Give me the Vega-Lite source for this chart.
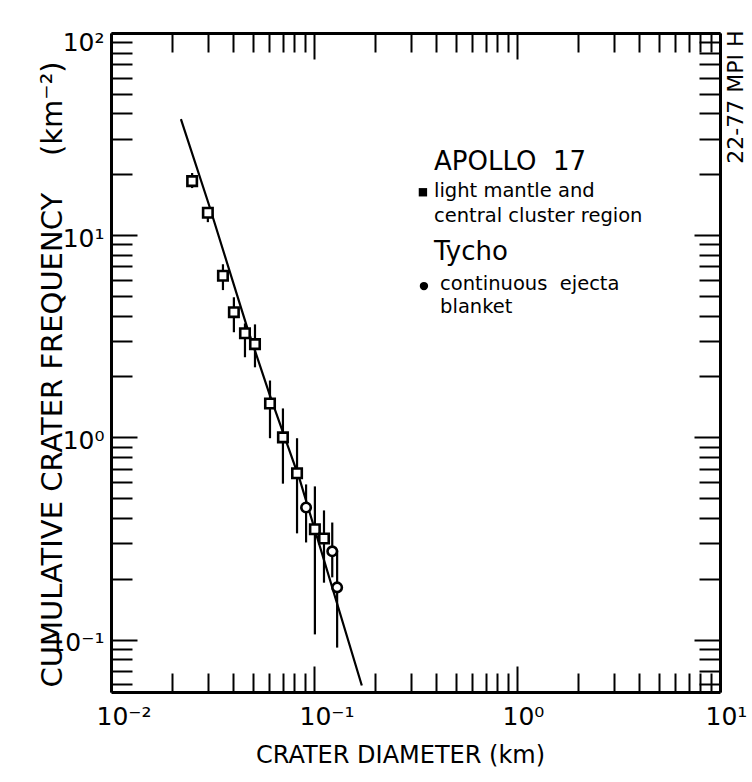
{
  "$schema": "https://vega.github.io/schema/vega-lite/v6.json",
  "width": 609,
  "height": 659,
  "autosize": {"type": "none"},
  "padding": {"left": 111, "top": 33, "right": 32, "bottom": 90},
  "background": "white",
  "config": {
    "view": {"stroke": null},
    "font": "DejaVu Sans",
    "axis": {
      "grid": false,
      "domainColor": "black",
      "domainWidth": 3,
      "tickColor": "black",
      "tickWidth": 2,
      "labelFont": "DejaVu Sans",
      "labelFontSize": 25,
      "labelColor": "black",
      "labelFlush": false,
      "labelOverlap": false,
      "labelBound": false,
      "titleFont": "DejaVu Sans",
      "titleFontWeight": "normal",
      "titleColor": "black"
    }
  },
  "datasets": {
    "counts": [
      {"diameter": 0.0251, "frequency": 18.5, "low": 17.1, "high": 20.3, "region": "Apollo 17"},
      {"diameter": 0.0300, "frequency": 12.9, "low": 11.6, "high": 13.6, "region": "Apollo 17"},
      {"diameter": 0.0356, "frequency": 6.30, "low": 5.35, "high": 7.18, "region": "Apollo 17"},
      {"diameter": 0.0403, "frequency": 4.16, "low": 3.31, "high": 4.93, "region": "Apollo 17"},
      {"diameter": 0.0457, "frequency": 3.27, "low": 2.49, "high": 3.66, "region": "Apollo 17"},
      {"diameter": 0.0512, "frequency": 2.89, "low": 2.22, "high": 3.62, "region": "Apollo 17"},
      {"diameter": 0.0607, "frequency": 1.47, "low": 0.99, "high": 1.91, "region": "Apollo 17"},
      {"diameter": 0.0703, "frequency": 1.00, "low": 0.59, "high": 1.39, "region": "Apollo 17"},
      {"diameter": 0.0825, "frequency": 0.664, "low": 0.335, "high": 0.99, "region": "Apollo 17"},
      {"diameter": 0.0914, "frequency": 0.450, "low": 0.302, "high": 0.585, "region": "Tycho"},
      {"diameter": 0.101, "frequency": 0.351, "low": 0.106, "high": 0.572, "region": "Apollo 17"},
      {"diameter": 0.112, "frequency": 0.316, "low": 0.191, "high": 0.435, "region": "Apollo 17"},
      {"diameter": 0.123, "frequency": 0.273, "low": 0.203, "high": 0.379, "region": "Tycho"},
      {"diameter": 0.130, "frequency": 0.181, "low": 0.0912, "high": 0.276, "region": "Tycho"}
    ],
    "fit": [
      {"diameter": 0.0221, "frequency": 37.5},
      {"diameter": 0.0304, "frequency": 14.1},
      {"diameter": 0.0468, "frequency": 3.51},
      {"diameter": 0.0607, "frequency": 1.61},
      {"diameter": 0.0853, "frequency": 0.612},
      {"diameter": 0.172, "frequency": 0.0592}
    ],
    "headings": [
      {"diameter": 0.39, "frequency": 21.0, "text": "APOLLO\u00a0\u00a017"},
      {"diameter": 0.39, "frequency": 7.52, "text": "Tycho"}
    ],
    "notes": [
      {"diameter": 0.39, "frequency": 15.4, "text": "light mantle and"},
      {"diameter": 0.39, "frequency": 11.6, "text": "central cluster region"},
      {"diameter": 0.418, "frequency": 5.35, "text": "continuous\u00a0\u00a0ejecta"},
      {"diameter": 0.418, "frequency": 4.11, "text": "blanket"}
    ],
    "keys": [
      {"diameter": 0.344, "frequency": 16.3, "region": "Apollo 17"},
      {"diameter": 0.348, "frequency": 5.6, "region": "Tycho"}
    ],
    "stamp": [
      {"diameter": 12.0, "frequency": 48.2, "text": "22-77 MPI H"}
    ]
  },
  "layer": [
    {
      "data": {"name": "counts"},
      "mark": {"type": "rule", "color": "black", "strokeWidth": 2.2},
      "encoding": {
        "x": {
          "field": "diameter", "type": "quantitative",
          "scale": {"type": "log", "domain": [0.01, 10], "nice": false},
          "axis": {
            "orient": "bottom",
            "values": [0.01, 0.02, 0.03, 0.04, 0.05, 0.06, 0.07, 0.08, 0.09, 0.1, 0.2, 0.3, 0.4, 0.5, 0.6, 0.7, 0.8, 0.9, 1, 2, 3, 4, 5, 6, 7, 8, 9, 10],
            "tickSize": {"condition": {"test": "indexof([0.01, 0.1, 1, 10], datum.value) >= 0", "value": -26}, "value": -19},
            "labelExpr": "datum.value == 0.01 ? '10⁻²' : datum.value == 0.1 ? '10⁻¹' : datum.value == 1 ? '10⁰' : datum.value == 10 ? '10¹' : ''",
            "labelPadding": 38,
            "labelAlign": "left",
            "labelOffset": -15,
            "labelBaseline": "top",
            "title": "CRATER DIAMETER (km)",
            "titleFontSize": 24,
            "titleX": 289,
            "titleY": 70,
            "titleBaseline": "alphabetic",
            "titleAlign": "center"
          }
        },
        "y": {
          "field": "low", "type": "quantitative",
          "scale": {"type": "log", "domain": [0.055, 100], "nice": false},
          "axis": {
            "orient": "left",
            "values": [0.06, 0.07, 0.08, 0.09, 0.1, 0.2, 0.3, 0.4, 0.5, 0.6, 0.7, 0.8, 0.9, 1, 2, 3, 4, 5, 6, 7, 8, 9, 10, 20, 30, 40, 50, 60, 70, 80, 90, 100],
            "tickSize": {"condition": {"test": "indexof([0.1, 1, 10, 100], datum.value) >= 0", "value": -26}, "value": -21},
            "labelExpr": "datum.value == 100 ? '10²' : datum.value == 10 ? '10¹' : datum.value == 1 ? '10⁰' : datum.value == 0.1 ? '10⁻¹' : ''",
            "labelPadding": 33,
            "labelBaseline": "middle",
            "labelOffset": {"condition": {"test": "datum.value == 100", "value": 9}, "value": 3},
            "title": "CUMULATIVE CRATER FREQUENCY\u00a0\u00a0\u00a0\u00a0(km⁻²)",
            "titleFontSize": 29,
            "titleAngle": 270,
            "titleX": -50,
            "titleY": 341,
            "titleBaseline": "alphabetic",
            "titleAlign": "center"
          }
        },
        "y2": {"field": "high"}
      }
    },
    {
      "data": {"name": "fit"},
      "mark": {"type": "line", "color": "black", "strokeWidth": 2.2},
      "encoding": {
        "x": {
          "field": "diameter", "type": "quantitative",
          "scale": {"type": "log", "domain": [0.01, 10], "nice": false},
          "axis": {
            "orient": "top",
            "values": [0.01, 0.02, 0.03, 0.04, 0.05, 0.06, 0.07, 0.08, 0.09, 0.1, 0.2, 0.3, 0.4, 0.5, 0.6, 0.7, 0.8, 0.9, 1, 2, 3, 4, 5, 6, 7, 8, 9, 10],
            "tickSize": {"condition": {"test": "indexof([0.01, 0.1, 1, 10], datum.value) >= 0", "value": -26}, "value": -19},
            "labels": false,
            "title": null
          }
        },
        "y": {
          "field": "frequency", "type": "quantitative",
          "scale": {"type": "log", "domain": [0.055, 100], "nice": false},
          "axis": {
            "orient": "right",
            "values": [0.06, 0.07, 0.08, 0.09, 0.1, 0.2, 0.3, 0.4, 0.5, 0.6, 0.7, 0.8, 0.9, 1, 2, 3, 4, 5, 6, 7, 8, 9, 10, 20, 30, 40, 50, 60, 70, 80, 90, 100],
            "tickSize": {"condition": {"test": "indexof([0.1, 1, 10, 100], datum.value) >= 0", "value": -26}, "value": -21},
            "labels": false,
            "title": null
          }
        }
      }
    },
    {
      "data": {"name": "counts"},
      "mark": {"type": "point", "filled": false, "fill": "white", "fillOpacity": 1, "stroke": "black", "strokeWidth": 2.6, "opacity": 1},
      "encoding": {
        "x": {"field": "diameter", "type": "quantitative", "axis": null},
        "y": {"field": "frequency", "type": "quantitative", "axis": null},
        "shape": {
          "field": "region", "type": "nominal",
          "scale": {"domain": ["Apollo 17", "Tycho"], "range": ["square", "circle"]},
          "legend": null
        },
        "size": {"value": 90}
      }
    },
    {
      "data": {"name": "keys"},
      "mark": {"type": "point", "filled": true, "color": "black", "opacity": 1},
      "encoding": {
        "x": {"field": "diameter", "type": "quantitative", "axis": null},
        "y": {"field": "frequency", "type": "quantitative", "axis": null},
        "shape": {"field": "region", "type": "nominal", "legend": null},
        "size": {"value": 70}
      }
    },
    {
      "data": {"name": "headings"},
      "mark": {"type": "text", "align": "left", "baseline": "alphabetic", "fontSize": 26, "color": "black"},
      "encoding": {
        "x": {"field": "diameter", "type": "quantitative", "axis": null},
        "y": {"field": "frequency", "type": "quantitative", "axis": null},
        "text": {"field": "text"}
      }
    },
    {
      "data": {"name": "notes"},
      "mark": {"type": "text", "align": "left", "baseline": "alphabetic", "fontSize": 19.5, "color": "black"},
      "encoding": {
        "x": {"field": "diameter", "type": "quantitative", "axis": null},
        "y": {"field": "frequency", "type": "quantitative", "axis": null},
        "text": {"field": "text"}
      }
    },
    {
      "data": {"name": "stamp"},
      "mark": {"type": "text", "align": "center", "baseline": "middle", "angle": 270, "fontSize": 22, "color": "black"},
      "encoding": {
        "x": {"field": "diameter", "type": "quantitative", "axis": null},
        "y": {"field": "frequency", "type": "quantitative", "axis": null},
        "text": {"field": "text"}
      }
    }
  ],
  "resolve": {"axis": {"x": "independent", "y": "independent"}}
}
